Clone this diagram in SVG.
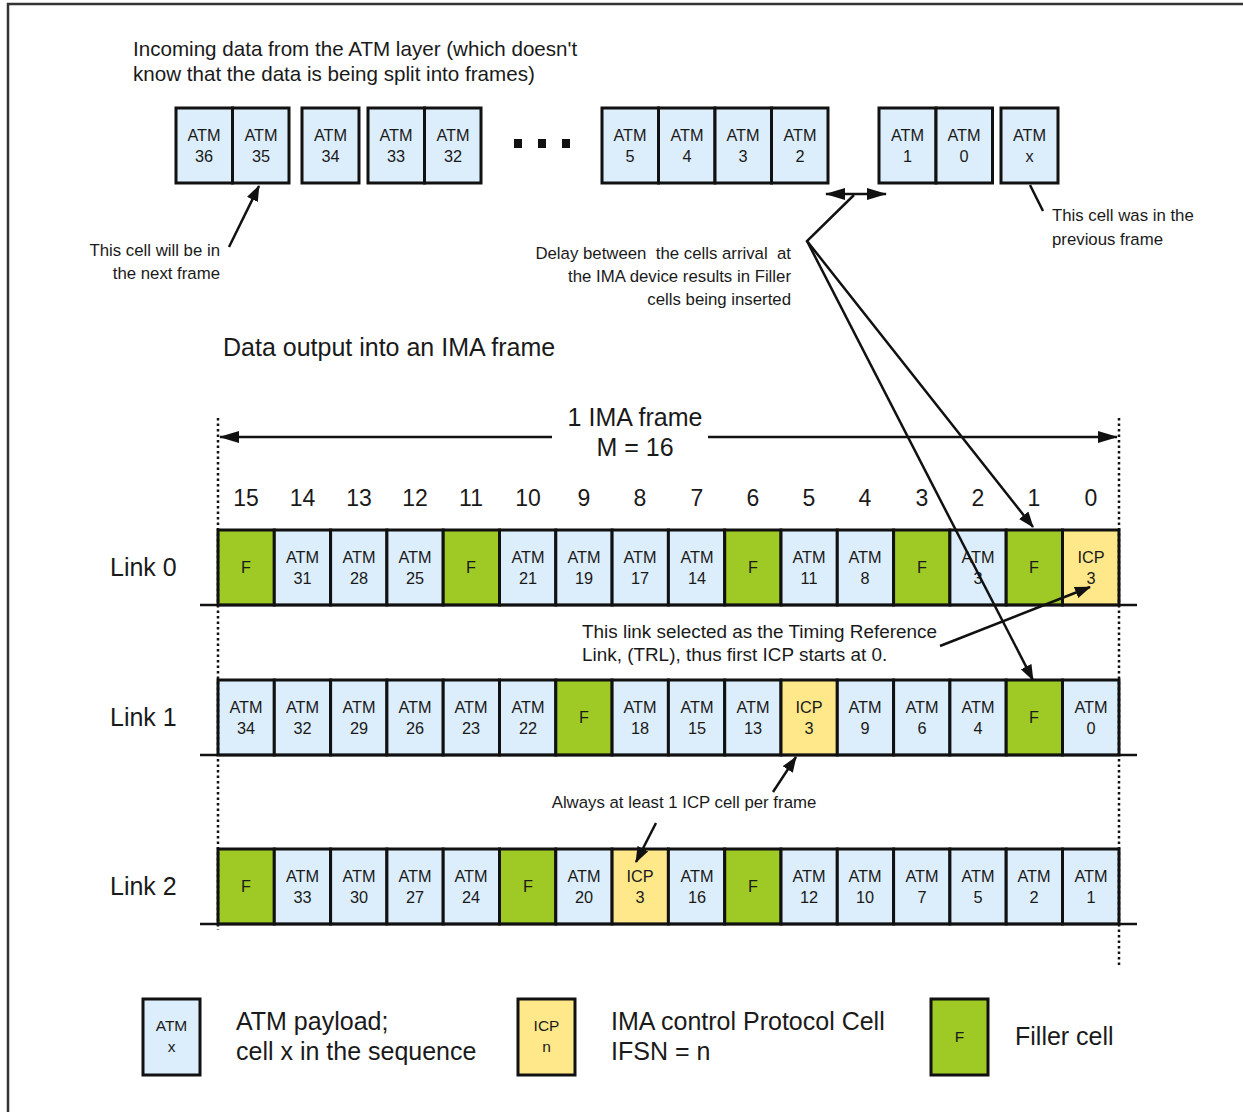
<svg xmlns="http://www.w3.org/2000/svg" width="1243" height="1112" viewBox="0 0 1243 1112">
<defs>
<style>
text{font-family:"Liberation Sans",Arial,sans-serif;fill:#1a1a1a}
.c{text-anchor:middle;font-size:16.3px}
.big{font-size:25px}
.mid{font-size:20.6px}
.sm{font-size:16.8px;white-space:pre}
.nt{font-size:18.9px}
.num{font-size:23px;text-anchor:middle}
.a{fill:#dcedfb;stroke:#111;stroke-width:3}
.i{fill:#fee88a;stroke:#111;stroke-width:3}
.f{fill:#9fc925;stroke:#111;stroke-width:3}
.ln{stroke:#111;stroke-width:2.5;fill:none}
.dot{stroke:#111;stroke-width:2.5;stroke-dasharray:2.5 3;fill:none}
</style>
<marker id="ah" markerUnits="userSpaceOnUse" markerWidth="16" markerHeight="12" refX="15" refY="6" orient="auto"><path d="M0,0 L16,6 L0,12 Z" fill="#111"/></marker>
<marker id="ahb" markerUnits="userSpaceOnUse" markerWidth="20" markerHeight="12" refX="19" refY="6" orient="auto"><path d="M0,0 L20,6 L0,12 Z" fill="#111"/></marker>
<marker id="ahs" markerUnits="userSpaceOnUse" markerWidth="20" markerHeight="12" refX="1" refY="6" orient="auto"><path d="M20,0 L0,6 L20,12 Z" fill="#111"/></marker>
</defs>
<rect width="1243" height="1112" fill="#fff"/>
<path d="M8,1112 V4 H1243" fill="none" stroke="#333" stroke-width="2.5"/>

<g id="title">
<text class="mid" x="133" y="56">Incoming data from the ATM layer (which doesn't</text>
<text class="mid" x="133" y="81">know that the data is being split into frames)</text>
</g>

<g id="top-cells">
<rect class="a" x="176" y="108" width="56.5" height="75"/><text class="c" x="204" y="141">ATM</text><text class="c" x="204" y="162">36</text>
<rect class="a" x="232.5" y="108" width="56.5" height="75"/><text class="c" x="261" y="141">ATM</text><text class="c" x="261" y="162">35</text>
<rect class="a" x="302" y="108" width="57" height="75"/><text class="c" x="330.5" y="141">ATM</text><text class="c" x="330.5" y="162">34</text>
<rect class="a" x="368" y="108" width="56.5" height="75"/><text class="c" x="396" y="141">ATM</text><text class="c" x="396" y="162">33</text>
<rect class="a" x="424.5" y="108" width="56.5" height="75"/><text class="c" x="453" y="141">ATM</text><text class="c" x="453" y="162">32</text>
<rect x="514" y="139" width="8" height="9" fill="#111"/><rect x="538" y="139" width="8" height="9" fill="#111"/><rect x="562" y="139" width="8" height="9" fill="#111"/>
<rect class="a" x="602" y="108" width="56.5" height="75"/><text class="c" x="630" y="141">ATM</text><text class="c" x="630" y="162">5</text>
<rect class="a" x="658.5" y="108" width="56.5" height="75"/><text class="c" x="687" y="141">ATM</text><text class="c" x="687" y="162">4</text>
<rect class="a" x="715" y="108" width="56.5" height="75"/><text class="c" x="743" y="141">ATM</text><text class="c" x="743" y="162">3</text>
<rect class="a" x="771.5" y="108" width="56.5" height="75"/><text class="c" x="800" y="141">ATM</text><text class="c" x="800" y="162">2</text>
<rect class="a" x="879" y="108" width="57" height="75"/><text class="c" x="907.5" y="141">ATM</text><text class="c" x="907.5" y="162">1</text>
<rect class="a" x="936" y="108" width="56.5" height="75"/><text class="c" x="964" y="141">ATM</text><text class="c" x="964" y="162">0</text>
<rect class="a" x="1001" y="108" width="57" height="75"/><text class="c" x="1029.5" y="141">ATM</text><text class="c" x="1029.5" y="162">x</text>
</g>

<g id="notes">
<text class="sm" x="220" y="256" text-anchor="end">This cell will be in</text>
<text class="sm" x="220" y="279" text-anchor="end">the next frame</text>
<text class="sm" x="791" y="259" text-anchor="end">Delay between  the cells arrival  at</text>
<text class="sm" x="791" y="282" text-anchor="end">the IMA device results in Filler</text>
<text class="sm" x="791" y="305" text-anchor="end">cells being inserted</text>
<text class="sm" x="1052" y="221">This cell was in the</text>
<text class="sm" x="1052" y="245">previous frame</text>
<text class="big" x="223" y="356">Data output into an IMA frame</text>
<text class="big" x="635" y="426" text-anchor="middle">1 IMA frame</text>
<text class="big" x="635" y="456" text-anchor="middle">M = 16</text>
<text class="nt" x="582" y="638">This link selected as the Timing Reference</text>
<text class="nt" x="582" y="661">Link, (TRL), thus first ICP starts at 0.</text>
<text class="sm" x="684" y="808" text-anchor="middle">Always at least 1 ICP cell per frame</text>
</g>

<g id="column-numbers">
<text class="num" x="246" y="506">15</text><text class="num" x="302.5" y="506">14</text><text class="num" x="359" y="506">13</text><text class="num" x="415" y="506">12</text>
<text class="num" x="471" y="506">11</text><text class="num" x="528" y="506">10</text><text class="num" x="584" y="506">9</text><text class="num" x="640" y="506">8</text>
<text class="num" x="697" y="506">7</text><text class="num" x="753" y="506">6</text><text class="num" x="809" y="506">5</text><text class="num" x="865" y="506">4</text>
<text class="num" x="922" y="506">3</text><text class="num" x="978" y="506">2</text><text class="num" x="1034" y="506">1</text><text class="num" x="1091" y="506">0</text>
</g>

<g id="link0">
<text class="big" x="110" y="576">Link 0</text>
<rect class="f" x="218" y="530" width="56.3" height="75"/><text class="c" x="246" y="573">F</text>
<rect class="a" x="274.3" y="530" width="56.3" height="75"/><text class="c" x="302.5" y="563">ATM</text><text class="c" x="302.5" y="584">31</text>
<rect class="a" x="330.6" y="530" width="56.3" height="75"/><text class="c" x="359" y="563">ATM</text><text class="c" x="359" y="584">28</text>
<rect class="a" x="386.9" y="530" width="56.3" height="75"/><text class="c" x="415" y="563">ATM</text><text class="c" x="415" y="584">25</text>
<rect class="f" x="443.2" y="530" width="56.3" height="75"/><text class="c" x="471" y="573">F</text>
<rect class="a" x="499.5" y="530" width="56.3" height="75"/><text class="c" x="528" y="563">ATM</text><text class="c" x="528" y="584">21</text>
<rect class="a" x="555.8" y="530" width="56.3" height="75"/><text class="c" x="584" y="563">ATM</text><text class="c" x="584" y="584">19</text>
<rect class="a" x="612.1" y="530" width="56.3" height="75"/><text class="c" x="640" y="563">ATM</text><text class="c" x="640" y="584">17</text>
<rect class="a" x="668.4" y="530" width="56.3" height="75"/><text class="c" x="697" y="563">ATM</text><text class="c" x="697" y="584">14</text>
<rect class="f" x="724.7" y="530" width="56.3" height="75"/><text class="c" x="753" y="573">F</text>
<rect class="a" x="781" y="530" width="56.3" height="75"/><text class="c" x="809" y="563">ATM</text><text class="c" x="809" y="584">11</text>
<rect class="a" x="837.3" y="530" width="56.3" height="75"/><text class="c" x="865" y="563">ATM</text><text class="c" x="865" y="584">8</text>
<rect class="f" x="893.6" y="530" width="56.3" height="75"/><text class="c" x="922" y="573">F</text>
<rect class="a" x="949.9" y="530" width="56.3" height="75"/><text class="c" x="978" y="563">ATM</text><text class="c" x="978" y="584">3</text>
<rect class="f" x="1006.2" y="530" width="56.3" height="75"/><text class="c" x="1034" y="573">F</text>
<rect class="i" x="1062.5" y="530" width="56.5" height="75"/><text class="c" x="1091" y="563">ICP</text><text class="c" x="1091" y="584">3</text>
</g>

<g id="link1">
<text class="big" x="110" y="726">Link 1</text>
<rect class="a" x="218" y="680" width="56.3" height="75"/><text class="c" x="246" y="713">ATM</text><text class="c" x="246" y="734">34</text>
<rect class="a" x="274.3" y="680" width="56.3" height="75"/><text class="c" x="302.5" y="713">ATM</text><text class="c" x="302.5" y="734">32</text>
<rect class="a" x="330.6" y="680" width="56.3" height="75"/><text class="c" x="359" y="713">ATM</text><text class="c" x="359" y="734">29</text>
<rect class="a" x="386.9" y="680" width="56.3" height="75"/><text class="c" x="415" y="713">ATM</text><text class="c" x="415" y="734">26</text>
<rect class="a" x="443.2" y="680" width="56.3" height="75"/><text class="c" x="471" y="713">ATM</text><text class="c" x="471" y="734">23</text>
<rect class="a" x="499.5" y="680" width="56.3" height="75"/><text class="c" x="528" y="713">ATM</text><text class="c" x="528" y="734">22</text>
<rect class="f" x="555.8" y="680" width="56.3" height="75"/><text class="c" x="584" y="723">F</text>
<rect class="a" x="612.1" y="680" width="56.3" height="75"/><text class="c" x="640" y="713">ATM</text><text class="c" x="640" y="734">18</text>
<rect class="a" x="668.4" y="680" width="56.3" height="75"/><text class="c" x="697" y="713">ATM</text><text class="c" x="697" y="734">15</text>
<rect class="a" x="724.7" y="680" width="56.3" height="75"/><text class="c" x="753" y="713">ATM</text><text class="c" x="753" y="734">13</text>
<rect class="i" x="781" y="680" width="56.3" height="75"/><text class="c" x="809" y="713">ICP</text><text class="c" x="809" y="734">3</text>
<rect class="a" x="837.3" y="680" width="56.3" height="75"/><text class="c" x="865" y="713">ATM</text><text class="c" x="865" y="734">9</text>
<rect class="a" x="893.6" y="680" width="56.3" height="75"/><text class="c" x="922" y="713">ATM</text><text class="c" x="922" y="734">6</text>
<rect class="a" x="949.9" y="680" width="56.3" height="75"/><text class="c" x="978" y="713">ATM</text><text class="c" x="978" y="734">4</text>
<rect class="f" x="1006.2" y="680" width="56.3" height="75"/><text class="c" x="1034" y="723">F</text>
<rect class="a" x="1062.5" y="680" width="56.5" height="75"/><text class="c" x="1091" y="713">ATM</text><text class="c" x="1091" y="734">0</text>
</g>

<g id="link2">
<text class="big" x="110" y="895">Link 2</text>
<rect class="f" x="218" y="849" width="56.3" height="75"/><text class="c" x="246" y="892">F</text>
<rect class="a" x="274.3" y="849" width="56.3" height="75"/><text class="c" x="302.5" y="882">ATM</text><text class="c" x="302.5" y="903">33</text>
<rect class="a" x="330.6" y="849" width="56.3" height="75"/><text class="c" x="359" y="882">ATM</text><text class="c" x="359" y="903">30</text>
<rect class="a" x="386.9" y="849" width="56.3" height="75"/><text class="c" x="415" y="882">ATM</text><text class="c" x="415" y="903">27</text>
<rect class="a" x="443.2" y="849" width="56.3" height="75"/><text class="c" x="471" y="882">ATM</text><text class="c" x="471" y="903">24</text>
<rect class="f" x="499.5" y="849" width="56.3" height="75"/><text class="c" x="528" y="892">F</text>
<rect class="a" x="555.8" y="849" width="56.3" height="75"/><text class="c" x="584" y="882">ATM</text><text class="c" x="584" y="903">20</text>
<rect class="i" x="612.1" y="849" width="56.3" height="75"/><text class="c" x="640" y="882">ICP</text><text class="c" x="640" y="903">3</text>
<rect class="a" x="668.4" y="849" width="56.3" height="75"/><text class="c" x="697" y="882">ATM</text><text class="c" x="697" y="903">16</text>
<rect class="f" x="724.7" y="849" width="56.3" height="75"/><text class="c" x="753" y="892">F</text>
<rect class="a" x="781" y="849" width="56.3" height="75"/><text class="c" x="809" y="882">ATM</text><text class="c" x="809" y="903">12</text>
<rect class="a" x="837.3" y="849" width="56.3" height="75"/><text class="c" x="865" y="882">ATM</text><text class="c" x="865" y="903">10</text>
<rect class="a" x="893.6" y="849" width="56.3" height="75"/><text class="c" x="922" y="882">ATM</text><text class="c" x="922" y="903">7</text>
<rect class="a" x="949.9" y="849" width="56.3" height="75"/><text class="c" x="978" y="882">ATM</text><text class="c" x="978" y="903">5</text>
<rect class="a" x="1006.2" y="849" width="56.3" height="75"/><text class="c" x="1034" y="882">ATM</text><text class="c" x="1034" y="903">2</text>
<rect class="a" x="1062.5" y="849" width="56.5" height="75"/><text class="c" x="1091" y="882">ATM</text><text class="c" x="1091" y="903">1</text>
</g>

<g id="legend">
<rect class="a" x="143" y="999" width="57" height="76"/><text class="c" x="171.5" y="1031" style="font-size:15.5px">ATM</text><text class="c" x="171.5" y="1052" style="font-size:15.5px">x</text>
<text class="big" x="236" y="1030">ATM payload;</text>
<text class="big" x="236" y="1060">cell x in the sequence</text>
<rect class="i" x="518" y="999" width="57" height="76"/><text class="c" x="546.5" y="1031" style="font-size:15.5px">ICP</text><text class="c" x="546.5" y="1052" style="font-size:15.5px">n</text>
<text class="big" x="611" y="1030">IMA control Protocol Cell</text>
<text class="big" x="611" y="1060">IFSN = n</text>
<rect class="f" x="931" y="999" width="57" height="76"/><text class="c" x="959.5" y="1042" style="font-size:15.5px">F</text>
<text class="big" x="1015" y="1045">Filler cell</text>
</g>

<g id="connectors">
<line class="ln" x1="200" y1="605" x2="1137" y2="605"/>
<line class="ln" x1="200" y1="755" x2="1137" y2="755"/>
<line class="ln" x1="200" y1="924" x2="1137" y2="924"/>
<line class="dot" x1="218" y1="418" x2="218" y2="930"/>
<line class="dot" x1="1119" y1="418" x2="1119" y2="968"/>
<line class="ln" x1="552" y1="437" x2="220" y2="437" marker-end="url(#ahb)"/>
<line class="ln" x1="708" y1="437" x2="1117" y2="437" marker-end="url(#ahb)"/>
<line class="ln" x1="229" y1="247" x2="259" y2="186" marker-end="url(#ah)"/>
<line class="ln" x1="1030" y1="185" x2="1043" y2="211"/>
<line class="ln" x1="826" y1="194" x2="886" y2="194" marker-start="url(#ahs)" marker-end="url(#ahb)"/>
<polyline class="ln" points="854,195 807,241 1033,527" marker-end="url(#ah)"/>
<line class="ln" x1="807" y1="241" x2="1033" y2="680" marker-end="url(#ah)"/>
<line class="ln" x1="940" y1="646" x2="1090" y2="587" marker-end="url(#ah)"/>
<line class="ln" x1="773" y1="792" x2="796" y2="757" marker-end="url(#ah)"/>
<line class="ln" x1="656" y1="823" x2="636" y2="862" marker-end="url(#ah)"/>
</g>
</svg>
